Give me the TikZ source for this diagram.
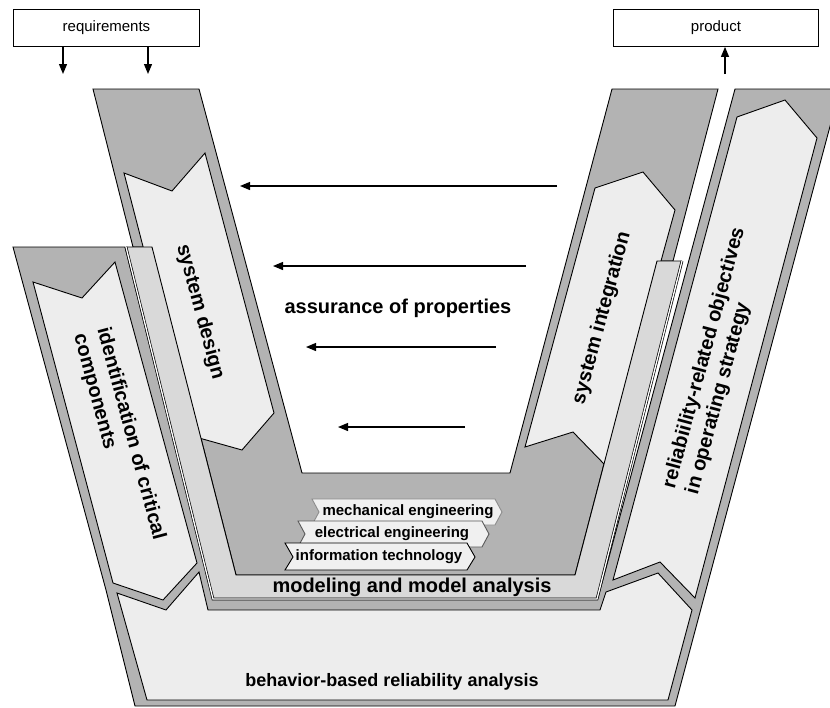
\documentclass[tikz,border=0pt]{standalone}
\usepackage{fontspec}
\setmainfont{Liberation Sans}
\usetikzlibrary{arrows.meta}
\definecolor{framegray}{HTML}{B3B3B3}
\definecolor{palegray}{HTML}{EDEDED}
\definecolor{bandgray}{HTML}{D9D9D9}
\definecolor{taggray}{HTML}{F0F0F0}
\begin{document}
\begin{tikzpicture}[x=1pt,y=-1pt,line join=miter,
  edge/.style={draw=black,line width=0.9pt},
  framefill/.style={edge,fill=framegray},
  panel/.style={edge,fill=palegray},
  dblline/.style={draw=black,line width=0.7pt,double=white,double distance=1.3pt},
  collabel/.style={font=\bfseries\fontsize{20}{24}\selectfont,inner sep=0pt,align=left},
  midlabel/.style={font=\bfseries\fontsize{20}{24}\selectfont,inner sep=0pt},
  taglabel/.style={font=\bfseries\fontsize{15}{18}\selectfont,inner sep=0pt},
  boxlabel/.style={font=\fontsize{15}{18}\selectfont},
  iobox/.style={draw=black,line width=0.9pt,fill=white,inner sep=0pt},
  flow/.style={draw=black,line width=1.2pt,-{Triangle[length=10pt,width=8pt]}},
  tagshape/.style={line width=0.9pt,fill=taggray}]
\useasboundingbox (0,0) rectangle (830,707);

% outer grey frame shared by the side columns and the bottom analysis field
\path[framefill] (13,247) -- (125,247) -- (213,598) -- (598,598) -- (735,89)
  -- (840,89) -- (703,601) -- (675,706) -- (135,706) -- (106,590) -- cycle;

% light panels inside the frame
\path[panel] (33,282) -- (82,298) -- (115,262) -- (197,563) -- (163,600) -- (113,583) -- cycle;
\path[panel] (117,593) -- (166,610) -- (199,572) -- (208,610) -- (600,610) -- (606,592)
  -- (658,573) -- (692,610) -- (668,700) -- (147,700) -- cycle;
\path[panel] (737,117) -- (785,100) -- (817,138) -- (695,598) -- (660,562) -- (613,580) -- cycle;

% dark V: design arm, bottom and integration arm
\path[framefill] (93,89) -- (199,89) -- (302,473) -- (510,473) -- (612,89) -- (718,89)
  -- (673,261) -- (657,261) -- (575,575) -- (236,575) -- (152,247) -- (133,247) -- cycle;

% system design / system integration panels
\path[panel] (124,173) -- (172,191) -- (205,153) -- (274,413) -- (242,450) -- (192,436) -- cycle;
\path[panel] (595,188) -- (643,172) -- (675,210) -- (605,465) -- (573,432) -- (525,447) -- cycle;

% modeling band around the V
\fill[bandgray] (126,247) -- (152,247) -- (236,575) -- (575,575) -- (657,261) -- (682,261)
  -- (597,599) -- (213,599) -- cycle;
\draw[edge] (126,247) -- (152,247) -- (236,575) -- (575,575) -- (657,261) -- (682,261);
\draw[dblline] (126,247) -- (213,599) -- (597,599) -- (682,261);

% discipline tags
\path[tagshape,draw=black!45] (312,499) -- (495,499) -- (502,512) -- (495,525) -- (312,525) -- (319,512) -- cycle;
\path[tagshape,draw=black!65] (298,521) -- (482,521) -- (489,534) -- (482,547) -- (298,547) -- (305,534) -- cycle;
\path[tagshape,draw=black] (285,543) -- (467,543) -- (475,557) -- (467,570) -- (285,570) -- (293,557) -- cycle;
\node[taglabel] (mech) at (408,512) {mechanical engineering};
\node[taglabel] (elec) at (392,534) {electrical engineering};
\node[taglabel] (info) at (379,557) {information technology};

% labels
\node[collabel,rotate=-75] (design) at (200,312) {system design};
\node[collabel,rotate=75] (integ) at (602,318) {system integration};
\node[collabel,rotate=-75] (ident) at (119,437) {identification of critical\\components};
\node[collabel,rotate=75] (reliab) at (716,361) {reliabiility-related objectives\\in operating strategy};
\node[midlabel] (assur) at (398,308) {assurance of properties};
\node[midlabel] (model) at (412,587) {modeling and model analysis};
\node[font=\bfseries\fontsize{18}{22}\selectfont,inner sep=0pt] (behav) at (392,682) {behavior-based reliability analysis};

% assurance arrows
\coordinate (a1s) at (557,186); \coordinate (a1e) at (240,186);
\coordinate (a2s) at (526,266); \coordinate (a2e) at (273,266);
\coordinate (a3s) at (496,347); \coordinate (a3e) at (306,347);
\coordinate (a4s) at (465,427); \coordinate (a4e) at (338,427);
\draw[flow] (a1s) -- (a1e);
\draw[flow] (a2s) -- (a2e);
\draw[flow] (a3s) -- (a3e);
\draw[flow] (a4s) -- (a4e);

% requirements and product
\node[iobox,minimum width=186pt,minimum height=37pt,anchor=north west] (req) at (13,9) {};
\node[boxlabel] (reqtext) at (req.center) {requirements};
\node[iobox,minimum width=205pt,minimum height=37pt,anchor=north west] (prod) at (613,9) {};
\node[boxlabel] (prodtext) at (prod.center) {product};
\coordinate (r1) at (63,74);
\coordinate (r2) at (148,74);
\coordinate (p1) at (725,74);
\draw[flow] (req.south -| r1) -- (r1);
\draw[flow] (req.south -| r2) -- (r2);
\draw[flow] (p1) -- (prod.south -| p1);
\end{tikzpicture}
\end{document}
